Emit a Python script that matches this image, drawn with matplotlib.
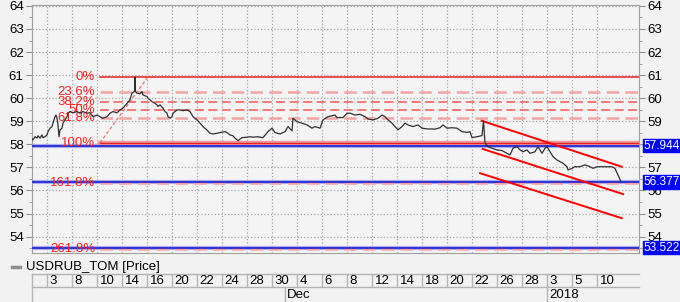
import matplotlib.pyplot as plt
from matplotlib.lines import Line2D

plt.rcParams['font.family'] = ['Liberation Sans', 'DejaVu Sans']

# trading-day index (3 Nov 2017 = 0) and USDRUB_TOM price
day = [-1.28, -1.12, -0.96, -0.80, -0.72, -0.56, -0.40, -0.32, -0.16, 0.00,
       0.08, 0.24, 0.40, 0.48, 0.64, 0.72, 0.80, 0.88, 0.96, 1.04,
       1.20, 1.28, 1.44, 1.60, 1.68, 1.84, 2.08, 2.40, 2.64, 2.88,
       3.20, 3.44, 3.68, 4.00, 4.24, 4.48, 4.80, 5.04, 5.28, 5.60,
       5.84, 6.08, 6.40, 6.64, 6.80, 6.88, 7.00, 7.04, 7.08, 7.20,
       7.44, 7.60, 7.68, 8.00, 8.08, 8.24, 8.40, 8.64, 8.80, 8.88,
       9.04, 9.28, 9.44, 9.60, 9.68, 9.84, 10.00, 10.08, 10.24, 10.40,
       10.64, 10.88, 11.20, 11.44, 11.68, 11.84, 12.00, 12.24, 12.48, 12.80,
       13.04, 13.28, 13.60, 13.84, 14.24, 14.40, 14.64, 14.88, 15.04, 15.28,
       15.60, 16.00, 16.24, 16.48, 16.88, 17.28, 17.68, 18.00, 18.24, 18.64,
       19.04, 19.28, 19.60, 19.68, 20.00, 20.40, 20.80, 21.20, 21.44, 21.84,
       22.08, 22.48, 23.04, 23.20, 23.68, 24.00, 24.24, 24.64, 25.04, 25.44,
       25.68, 26.08, 26.48, 26.80, 27.04, 27.28, 27.60, 27.84, 28.08, 28.40,
       28.64, 28.88, 29.28, 29.68, 30.00, 30.40, 31.04, 31.44, 31.68, 32.00,
       32.40, 32.80, 33.20, 33.60, 33.84, 34.00, 34.40, 34.80, 34.92, 35.04,
       35.28, 35.60, 36.00, 36.40, 36.80, 37.04, 37.28, 37.60, 37.84, 38.08,
       38.40, 38.64, 39.04, 39.28, 39.60, 39.84, 40.00, 40.24, 40.48, 40.80,
       41.04, 41.28, 41.60, 41.68, 42.00, 42.24, 42.64, 43.04, 43.44, 43.68,
       44.00, 44.40, 44.80, 45.20, 45.44, 45.68, 45.92]
price = [58.27, 58.19, 58.33, 58.27, 58.37, 58.27, 58.41, 58.29, 58.33, 58.41,
         58.55, 58.70, 58.77, 58.92, 59.20, 59.27, 59.13, 58.84, 58.33, 58.62,
         58.70, 58.92, 59.06, 59.20, 59.35, 59.42, 59.37, 59.42, 59.35, 59.42,
         59.35, 59.37, 59.20, 59.27, 59.20, 59.13, 59.20, 59.35, 59.42, 59.37,
         59.49, 59.57, 59.78, 59.93, 60.22, 60.24, 60.30, 60.92, 60.28, 60.22,
         60.19, 60.29, 60.14, 60.07, 60.00, 59.93, 59.85, 59.78, 59.71, 59.64,
         59.71, 59.57, 59.42, 59.35, 59.20, 59.13, 59.20, 59.35, 59.42, 59.49,
         59.49, 59.46, 59.49, 59.42, 59.20, 59.13, 59.06, 58.92, 58.77, 58.62,
         58.48, 58.45, 58.48, 58.51, 58.55, 58.51, 58.41, 58.37, 58.27, 58.16,
         58.29, 58.31, 58.33, 58.31, 58.33, 58.29, 58.55, 58.70, 58.51, 58.45,
         58.55, 58.77, 58.58, 59.13, 58.98, 58.92, 58.84, 58.70, 58.77, 58.70,
         59.06, 59.20, 59.27, 59.16, 59.16, 59.35, 59.35, 59.27, 59.30, 59.20,
         59.10, 59.06, 59.13, 59.27, 59.20, 59.06, 58.92, 58.77, 58.63, 58.77,
         58.92, 58.84, 58.77, 58.84, 58.70, 58.67, 58.66, 58.72, 58.84, 58.70,
         58.72, 58.70, 58.55, 58.52, 58.55, 58.29, 58.33, 58.38, 59.02, 58.05,
         57.90, 57.83, 57.76, 57.73, 57.61, 57.54, 57.83, 57.90, 57.76, 57.68,
         57.76, 57.61, 57.68, 57.90, 57.61, 57.83, 57.90, 57.68, 57.47, 57.32,
         57.25, 57.18, 57.03, 56.89, 56.96, 57.03, 57.03, 57.11, 57.03, 56.96,
         57.03, 57.03, 57.03, 57.03, 56.96, 56.67, 56.38]

tick_days = list(range(0, 45, 2))
tick_labels = ['3', '8', '10', '14', '16', '20', '22', '24', '28', '30', '4', '6',
               '8', '12', '14', '18', '20', '22', '26', '28', '3', '5', '10']
month_days = [19, 40]
month_labels = ['Dec', '2018']

# Fibonacci retracement
fib_start, fib_end = 4.24, 8.08
fib_high, fib_low = 60.92, 58.07
fib_pcts = [0, 23.6, 38.2, 50, 61.8, 100, 161.8, 261.8]
fib_labels = ['0%', '23.6%', '38.2%', '50%', '61.8%', '100%', '161.8%', '261.8%']

# horizontal quote lines
quote_levels = [57.944, 56.377, 53.522]

# trend channel
upper_x, upper_y = [34.78, 45.98], [59.02, 57.03]
mid_x, mid_y = [34.86, 46.10], [57.80, 55.84]
lower_x, lower_y = [34.64, 45.98], [56.75, 54.80]

x_min, x_max = -1.2, 47.36
y_min, y_max = 53.29, 64.04

W, H = 680, 302
fig = plt.figure(figsize=(6.8, 3.02), dpi=100, facecolor='#f2f2f2')
ax = fig.add_axes([32 / W, 1 - 253 / H, 607 / W, 248 / H], facecolor='#f4f4f4')

ax.set_xlim(x_min, x_max)
ax.set_ylim(y_min, y_max)

# grid
ax.set_xticks(tick_days)
ax.set_xticklabels([])
ax.set_yticks(range(54, 65))
ax.set_yticks([v + 0.5 for v in range(53, 64)], minor=True)
ax.grid(True, which='major', color='#a8a8a8', linestyle=':', linewidth=0.9)
ax.tick_params(axis='x', length=0)
ax.tick_params(axis='y', which='major', length=4, color='#909090', labelsize=9.5,
               left=True, right=True, labelleft=True, labelright=True, pad=2)
ax.tick_params(axis='y', which='minor', length=2, color='#909090', left=True, right=True)
for s in ax.spines.values():
    s.set_color('#a0a0a0')

# fibonacci lines
fib_prices = [fib_high - p / 100 * (fib_high - fib_low) for p in fib_pcts]
for pct, lvl, lab in zip(fib_pcts, fib_prices, fib_labels):
    if pct == 0:
        ax.plot([fib_start, x_max], [lvl, lvl], color='#e82020', lw=1.1, zorder=3)
    elif pct == 100:
        ax.plot([fib_start, x_max], [lvl, lvl], color='#f49a9a', lw=3.2, zorder=3)
        ax.plot([fib_start, x_max], [lvl, lvl], color='#e82020', lw=1.0, zorder=3)
    elif pct in (23.6, 61.8, 161.8, 261.8):
        ax.plot([fib_start, x_max], [lvl, lvl], color='#f4a4a4', lw=1.8,
                dashes=(5, 2.5), zorder=3)
    else:
        ax.plot([fib_start, x_max], [lvl, lvl], color='#f47070', lw=1.3,
                dashes=(5, 2.5), zorder=3)
    ax.text(3.84, lvl, lab, ha='right', va='center', color='#ff2020',
            fontsize=9.5, zorder=5)
ax.plot([fib_start, fib_end], [fib_low, fib_high], color='#f06060', lw=0.8,
        dashes=(3, 2), zorder=3)

# quote lines
for q in quote_levels:
    ax.axhline(q, color='#a8aef0', lw=3, zorder=2)
    ax.axhline(q, color='#1010d0', lw=1.1, zorder=4)
    ax.text(1.0082, q, f'{q:.3f}', transform=ax.get_yaxis_transform(),
            ha='left', va='center', color='white', fontsize=8.6, zorder=10,
            clip_on=False,
            bbox=dict(facecolor='#0000ff', edgecolor='#0000ff', pad=0.6))

# price
ax.plot(day, price, color='#303030', lw=0.9, zorder=6)

# channel
for cx, cy in [(upper_x, upper_y), (mid_x, mid_y), (lower_x, lower_y)]:
    ax.plot(cx, cy, color='#ff0000', lw=1.4, zorder=5)

# date table below the chart
tb = fig.add_axes([32 / W, 0, 607 / W, 28 / H])
tb.set_xlim(x_min, x_max)
tb.set_ylim(0, 28)
tb.axis('off')
grey = '#b4b4b4'
tb.plot([x_min, x_max], [28, 28], color=grey, lw=1, clip_on=False)
tb.plot([x_min, x_max], [15, 15], color=grey, lw=1, clip_on=False)
tb.plot([x_min, x_min], [0, 28], color=grey, lw=1, clip_on=False)
for t, lab in zip(tick_days, tick_labels):
    tb.plot([t, t], [15, 28], color=grey, lw=1, clip_on=False)
    tb.text(t + 0.22, 21.5, lab, ha='left', va='center', fontsize=9.5)
for m, lab in zip(month_days, month_labels):
    tb.plot([m, m], [0, 15], color=grey, lw=1, clip_on=False)
    tb.text(m + 0.22, 7.5, lab, ha='left', va='center', fontsize=9.5)

# legend
fig.add_artist(Line2D([12 / W, 20 / W], [1 - 267 / H, 1 - 267 / H],
                      color='#909090', lw=2.5))
fig.text(26 / W, 1 - 267 / H, 'USDRUB_TOM [Price]', ha='left', va='center',
         fontsize=9.5)

fig.savefig('out.png', dpi=100, facecolor=fig.get_facecolor())
